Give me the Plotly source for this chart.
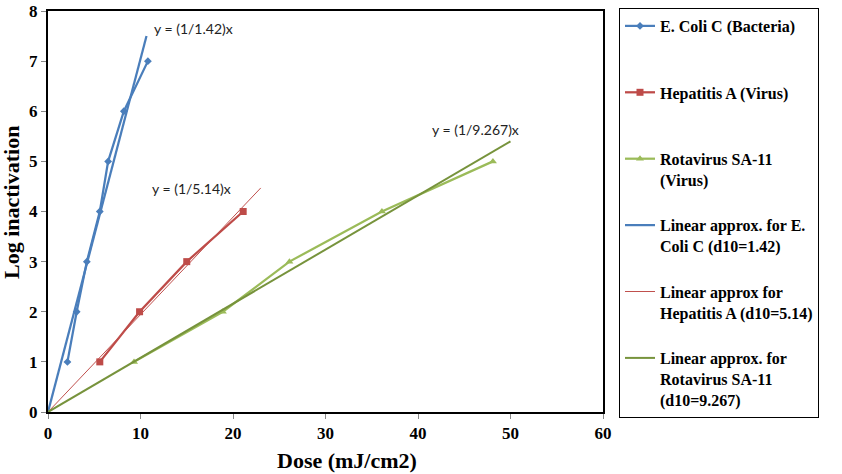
import plotly.graph_objects as go

# Data
ecoli_dose = [2.1, 3.1, 4.2, 5.6, 6.5, 8.2, 10.8]
ecoli_log = [1, 2, 3, 4, 5, 6, 7]
hepa_dose = [5.6, 9.9, 15.0, 21.1]
hepa_log = [1, 2, 3, 4]
rota_dose = [9.3, 18.9, 26.1, 36.1, 48.1]
rota_log = [1, 2, 3, 4, 5]

# Linear approximation end points (y = x / d10)
ecoli_fit_x = [0, 10.65]
ecoli_fit_y = [0, 7.5]
hepa_fit_x = [0, 23.0]
hepa_fit_y = [0, 4.47]
rota_fit_x = [0, 50.0]
rota_fit_y = [0, 5.4]

names = [
    "E. Coli C (Bacteria)",
    "Hepatitis A (Virus)",
    "Rotavirus SA-11<br>(Virus)",
    "Linear approx. for E.<br>Coli C (d10=1.42)",
    "Linear approx for<br>Hepatitis A (d10=5.14)",
    "Linear approx. for<br>Rotavirus SA-11<br>(d10=9.267)",
]

def pad(n):
    k = n.count("<br>") + 1
    return n + "<br>\u00a0" * (3 - k)

BLUE = "#4A7EBB"
RED = "#BE4B48"
LGREEN = "#9BBB59"
OLIVE = "#77933C"
SERIF = "Liberation Serif"

TOP = 11
BOT = 412
PH = BOT - TOP

fig = go.Figure()
fig.add_trace(go.Scatter(x=ecoli_dose, y=ecoli_log, mode="lines+markers", name=pad(names[0]),
                         legendgroup="a", line=dict(color=BLUE, width=2.25),
                         marker=dict(symbol="diamond", size=6, color=BLUE)))
fig.add_trace(go.Scatter(x=hepa_dose, y=hepa_log, mode="lines+markers", name=pad(names[1]),
                         legendgroup="b", line=dict(color=RED, width=2.25),
                         marker=dict(symbol="square", size=7, color=RED)))
fig.add_trace(go.Scatter(x=rota_dose, y=rota_log, mode="lines+markers", name=pad(names[2]),
                         legendgroup="c", line=dict(color=LGREEN, width=2.25),
                         marker=dict(symbol="triangle-up", size=7, color=LGREEN)))
fig.add_trace(go.Scatter(x=ecoli_fit_x, y=ecoli_fit_y, mode="lines", name=pad(names[3]),
                         legendgroup="d", line=dict(color=BLUE, width=2.25)))
fig.add_trace(go.Scatter(x=hepa_fit_x, y=hepa_fit_y, mode="lines", name=pad(names[4]),
                         legendgroup="e", line=dict(color="#C0504D", width=1)))
fig.add_trace(go.Scatter(x=rota_fit_x, y=rota_fit_y, mode="lines", name=pad(names[5]),
                         legendgroup="f", line=dict(color=OLIVE, width=2)))

eq_font = dict(family="Lato", size=14, color="#222222")
fig.add_annotation(x=11.2, y=7.65, text="y = (1/1.42)x", showarrow=False, xanchor="left",
                   yanchor="middle", font=eq_font)
fig.add_annotation(x=11.0, y=4.45, text="y = (1/5.14)x", showarrow=False, xanchor="left",
                   yanchor="middle", font=eq_font)
fig.add_annotation(x=41.3, y=5.63, text="y = (1/9.267)x", showarrow=False, xanchor="left",
                   yanchor="middle", font=eq_font)

title_font = dict(family=SERIF, size=22, color="black")
fig.add_annotation(xref="paper", yref="paper", x=(347 - 48) / 555, y=(BOT - 460) / PH,
                   text="<b>Dose (mJ/cm2)</b>", showarrow=False, xanchor="center",
                   yanchor="middle", font=title_font)
fig.add_annotation(xref="paper", yref="paper", x=(11 - 48) / 555, y=(BOT - 203) / PH,
                   text="<b>Log inactivation</b>", showarrow=False, textangle=-90,
                   xanchor="center", yanchor="middle", font=title_font)

tick_font = dict(family=SERIF, size=17, color="black", weight="bold")
fig.update_xaxes(range=[0, 60], dtick=10, showgrid=False, zeroline=False,
                 showline=True, linecolor="black", linewidth=2, mirror=True,
                 ticks="outside", ticklen=5, tickcolor="#888888",
                 tickfont=tick_font, automargin=False, ticklabeloverflow="allow")
fig.update_yaxes(range=[0, 8], dtick=1, showgrid=False, zeroline=False,
                 showline=True, linecolor="black", linewidth=2, mirror=True,
                 ticks="outside", ticklen=5, tickcolor="#888888",
                 tickfont=tick_font, automargin=False, ticklabeloverflow="allow")

fig.update_layout(
    width=842, height=474,
    margin=dict(l=48, r=239, t=TOP, b=474 - BOT, autoexpand=False),
    plot_bgcolor="white", paper_bgcolor="white",
    showlegend=True,
    legend=dict(x=(619 - 48) / 555, y=(BOT - 8) / PH, xanchor="left", yanchor="top",
                bordercolor="black", borderwidth=1, bgcolor="white",
                font=dict(family=SERIF, size=16, color="black", weight="bold"),
                tracegroupgap=1, valign="top", itemwidth=30, maxheight=470),
)

fig.write_html("out.html")
